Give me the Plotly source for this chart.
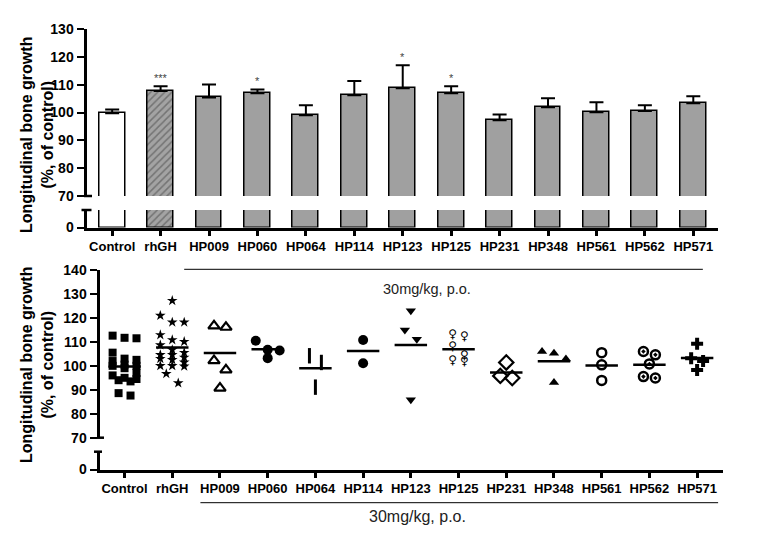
import plotly.graph_objects as go

# ---------------- data ----------------
categories = ["Control", "rhGH", "HP009", "HP060", "HP064", "HP114", "HP123",
              "HP125", "HP231", "HP348", "HP561", "HP562", "HP571"]
bar_means = [99.7, 107.7, 105.4, 106.9, 99.0, 106.2, 108.7, 106.9, 97.2, 101.9, 100.1, 100.5, 103.3]
bar_err_top = [101.1, 109.4, 110.1, 108.3, 102.6, 111.3, 117.0, 109.4, 99.3, 105.1, 103.7, 102.6, 105.8]
significance = ["", "***", "", "*", "", "", "*", "*", "", "", "", "", ""]

control_vals = [112.6, 111.7, 111.5, 105.5, 103.0, 102.5, 102.0, 100.5, 100.0, 100.0, 99.0,
                97.0, 96.0, 95.0, 94.5, 94.0, 93.5, 88.6, 87.6]
rhgh_vals = [127.2, 121.0, 118.2, 118.2, 112.9, 110.8, 110.1, 108.7, 106.7, 105.5, 104.6,
             104.6, 103.5, 103.0, 102.5, 101.5, 100.0, 100.0, 99.8, 96.7, 92.8]
hp009_vals = [116.7, 116.1, 102.2, 98.3, 90.7]
hp060_vals = [110.5, 106.7, 106.4, 103.2]
hp064_vals = [104.2, 101.4, 91.1]
hp114_vals = [110.8, 101.1]
hp123_vals = [123.0, 115.0, 111.1, 85.8]
hp125_vals = [113.0, 112.0, 108.0, 104.0, 102.0, 101.5]
hp231_vals = [101.4, 95.8, 94.9]
hp348_vals = [106.0, 105.3, 102.8, 93.0]
hp561_vals = [105.5, 100.4, 93.9]
hp562_vals = [106.0, 104.6, 100.8, 95.5, 94.9]
hp571_vals = [109.2, 103.2, 102.0, 98.3]
group_values = [control_vals, rhgh_vals, hp009_vals, hp060_vals, hp064_vals, hp114_vals,
                hp123_vals, hp125_vals, hp231_vals, hp348_vals, hp561_vals, hp562_vals, hp571_vals]

dose_label = "30mg/kg, p.o."
y_title = "Longitudinal bone growth<br>(%, of control)"

# ---------------- layout helpers ----------------
# the page body has an 8px margin, so the figure starts at (8, 8)
OFF = 8
W, H = 768 - OFF, 552 - OFF
def px(x):
    return (x - OFF) / W
def py(y):
    return 1 - (y - OFF) / H

FONT = "Liberation Sans, Arial, sans-serif"
BLACK = "black"

# bottom chart scale (px per unit)
BOT_PX_PER_VAL = (437.7 - 270) / 70.0
BOT_PX_PER_CAT = 47.94


def swarm_offsets(values, thresh_px=10, max_row=3, step_px=12):
    order = sorted(range(len(values)), key=lambda i: -values[i])
    offsets = [0.0] * len(values)
    rows, cur = [], []
    for i in order:
        if cur and len(cur) < max_row and (values[cur[0]] - values[i]) * BOT_PX_PER_VAL < thresh_px:
            cur.append(i)
        else:
            if cur:
                rows.append(cur)
            cur = [i]
    if cur:
        rows.append(cur)
    for row in rows:
        n = len(row)
        for k, i in enumerate(row):
            offsets[i] = (k - (n - 1) / 2) * step_px / BOT_PX_PER_CAT
    return offsets


fig = go.Figure()

# ---------------- top chart: bars ----------------
xs = list(range(len(categories)))
bar_colors = ["white", "#a3a3a3"] + ["#a0a0a0"] * (len(categories) - 2)
pattern_shapes = ["", "/"] + [""] * (len(categories) - 2)

for yref, with_err in (("y", True), ("y2", False)):
    fig.add_trace(go.Bar(
        x=xs, y=bar_means, xaxis="x", yaxis=yref, width=0.535,
        marker=dict(color=bar_colors, line=dict(color=BLACK, width=1.5),
                    pattern=dict(shape=pattern_shapes, fgcolor="#303030", size=5, solidity=0.3)),
        error_y=dict(type="data", symmetric=False,
                     array=[t - m for t, m in zip(bar_err_top, bar_means)],
                     arrayminus=[0] * len(bar_means),
                     color=BLACK, thickness=2, width=7, visible=with_err),
        hoverinfo="skip",
    ))

# ---------------- bottom chart: scatter ----------------
marker_styles = [
    dict(symbol="square", size=8, color=BLACK),
    dict(symbol="star", size=8, color=BLACK),
    dict(symbol="triangle-up-open", size=10, color=BLACK, line=dict(width=2.2, color=BLACK)),
    dict(symbol="circle", size=10, color=BLACK),
    dict(symbol="line-ns-open", size=11, color=BLACK, line=dict(width=3, color=BLACK)),
    dict(symbol="circle", size=10, color=BLACK),
    dict(symbol="triangle-down", size=9, color=BLACK),
    None,  # HP125 drawn as a text glyph
    dict(symbol="diamond-open", size=11, color=BLACK, line=dict(width=2.2, color=BLACK)),
    dict(symbol="triangle-up", size=9, color=BLACK),
    dict(symbol="circle-open", size=9, color=BLACK, line=dict(width=2.5, color=BLACK)),
    dict(symbol="circle-open-dot", size=9, color=BLACK, line=dict(width=2.5, color=BLACK)),
    dict(symbol="cross", size=10, color=BLACK),
]

for g, vals in enumerate(group_values):
    offs = swarm_offsets(vals)
    gx = [g + o for o in offs]
    style = marker_styles[g]
    if style is None:
        fig.add_trace(go.Scatter(
            x=gx, y=vals, xaxis="x2", yaxis="y3", mode="text",
            text=["<b>♀</b>"] * len(vals), textposition="middle center",
            textfont=dict(family="DejaVu Sans", size=12, color=BLACK),
            hoverinfo="skip", cliponaxis=False))
    else:
        fig.add_trace(go.Scatter(
            x=gx, y=vals, xaxis="x2", yaxis="y3", mode="markers",
            marker=style, hoverinfo="skip", cliponaxis=False))

# mean lines
mx, my = [], []
for i, m in enumerate(bar_means):
    mx += [i - 0.34, i + 0.34, None]
    my += [m, m, None]
fig.add_trace(go.Scatter(x=mx, y=my, xaxis="x2", yaxis="y3", mode="lines",
                         line=dict(color=BLACK, width=2.5), hoverinfo="skip"))
# keep lower bottom axis alive
fig.add_trace(go.Scatter(x=[None], y=[None], xaxis="x2", yaxis="y4", mode="markers",
                         hoverinfo="skip"))

# ---------------- axes ----------------
tick_font = dict(family=FONT, size=14, color=BLACK, weight="bold")
cat_font = dict(family=FONT, size=13, color=BLACK, weight="bold")
common = dict(showgrid=False, zeroline=False, showline=True, linecolor=BLACK,
              linewidth=3, ticks="outside", tickcolor=BLACK, automargin=False)

fig.update_layout(
    width=W, height=H, margin=dict(l=0, r=0, t=0, b=0),
    plot_bgcolor="white", paper_bgcolor="white", showlegend=False,
    bargap=0,
    xaxis=dict(**common, domain=[px(86.5), px(718)], anchor="y2",
               range=[-0.53, 12.51], tickvals=xs, ticktext=categories,
               ticklen=5, tickwidth=2.5, tickfont=cat_font),
    yaxis=dict(**common, domain=[py(196), py(29)], anchor="x", range=[70, 130],
               dtick=10, ticklen=7, tickwidth=2, tickfont=tick_font),
    yaxis2=dict(**common, domain=[py(227.5), py(210)], anchor="x", range=[0, 17.5 / 2.783],
                tickvals=[0], ticklen=7, tickwidth=2, tickfont=tick_font),
    xaxis2=dict(**common, domain=[px(99.5), px(722.7)], anchor="y4",
                range=[-0.525, 12.536], tickvals=xs, ticktext=categories,
                ticklen=5, tickwidth=2.5, tickfont=cat_font),
    yaxis3=dict(**common, domain=[py(437.7), py(270)], anchor="x2", range=[70, 140],
                dtick=10, ticklen=7, tickwidth=2, tickfont=tick_font),
    yaxis4=dict(**common, domain=[py(469.5), py(451.7)], anchor="x2",
                range=[0, 17.8 / BOT_PX_PER_VAL], tickvals=[0], ticklen=7, tickwidth=2,
                tickfont=tick_font),
)

# ---------------- annotations ----------------
ann = []
for i, s in enumerate(significance):
    if s:
        ann.append(dict(x=i, y=bar_err_top[i], xref="x", yref="y", text=s, showarrow=False,
                        yanchor="bottom", yshift=0,
                        font=dict(family=FONT, size=11, color="#444")))
for yc in (135, 365):
    ann.append(dict(x=px(37), y=py(yc), xref="paper", yref="paper", text=y_title,
                    textangle=-90, showarrow=False, xanchor="center", yanchor="middle",
                    font=dict(family=FONT, size=16, color=BLACK, weight="bold")))
ann.append(dict(x=6.34, y=py(289), xref="x2", yref="paper", text=dose_label, showarrow=False,
                font=dict(family=FONT, size=14.5, color="#222")))
ann.append(dict(x=6.15, y=py(527), xref="x2", yref="paper", text=dose_label, showarrow=False,
                font=dict(family=FONT, size=16, color="#222")))
fig.update_layout(annotations=ann)

# ---------------- shapes: dose lines and axis-break caps ----------------
shapes = [
    dict(type="line", xref="x2", yref="paper", x0=1.25, x1=12.12, y0=py(269.3), y1=py(269.3),
         line=dict(color=BLACK, width=1)),
    dict(type="line", xref="x2", yref="paper", x0=1.59, x1=12.44, y0=py(502.7), y1=py(502.7),
         line=dict(color=BLACK, width=1)),
    dict(type="line", xref="paper", yref="paper", x0=px(84), x1=px(92), y0=py(196), y1=py(196),
         line=dict(color=BLACK, width=2.5)),
    dict(type="line", xref="paper", yref="paper", x0=px(81.5), x1=px(91.5), y0=py(210), y1=py(210),
         line=dict(color=BLACK, width=2.5)),
    dict(type="line", xref="paper", yref="paper", x0=px(97), x1=px(104), y0=py(437.7), y1=py(437.7),
         line=dict(color=BLACK, width=2.5)),
    dict(type="line", xref="paper", yref="paper", x0=px(94), x1=px(102), y0=py(451.7), y1=py(451.7),
         line=dict(color=BLACK, width=2.5)),
]
fig.update_layout(shapes=shapes)

fig.write_html("out.html")
